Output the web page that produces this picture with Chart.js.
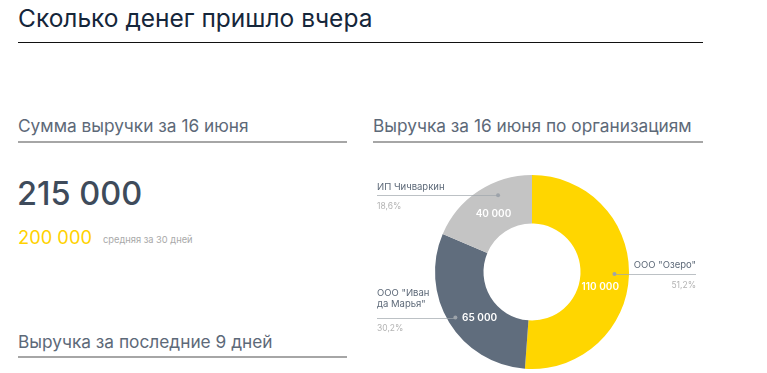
<!DOCTYPE html>
<html lang="ru">
<head>
<meta charset="utf-8">
<script src="https://cdn.jsdelivr.net/npm/chart.js@4"></script>
<style>
  html, body { margin: 0; padding: 0; background: #fff; }
  body { width: 767px; height: 373px; position: relative; overflow: hidden; font-family: Inter, "Noto Sans", sans-serif; }
  .abs { position: absolute; white-space: nowrap; line-height: 1; }
  .title { left: 18px; top: 6px; font-size: 24.5px; color: #15263a; }
  .rule { position: absolute; height: 1px; background: #111; }
  .heading { font-size: 17.3px; color: #5d6978; }
  .hline { position: absolute; height: 2px; background: #a6a6a6; }
  .big { left: 17px; top: 178px; font-size: 32.5px; font-weight: 500; color: #3e4b5b; }
  .avg { left: 18px; top: 228px; font-size: 18.3px; color: #ffd200; }
  .avgnote { left: 103px; top: 235px; font-size: 9.3px; color: #a9a9a9; }
  #donutWrap { position: absolute; left: 360px; top: 160px; width: 400px; height: 213px; }
</style>
</head>
<body>
<div class="abs title">Сколько денег пришло вчера</div>
<div class="rule" style="left:18px; top:42px; width:685px;"></div>

<div class="abs heading" style="left:18px; top:117px;">Сумма выручки за 16 июня</div>
<div class="hline" style="left:18px; top:141px; width:329px;"></div>

<div class="abs big">215 000</div>
<div class="abs avg">200 000</div>
<div class="abs avgnote">средняя за 30 дней</div>

<div class="abs heading" style="left:373px; top:117px;">Выручка за 16 июня по организациям</div>
<div class="hline" style="left:373px; top:141px; width:330px;"></div>

<div class="abs heading" style="left:18px; top:333px;">Выручка за последние 9 дней</div>
<div class="hline" style="left:18px; top:356px; width:329px;"></div>

<div id="donutWrap"><canvas id="donut" width="400" height="213"></canvas></div>

<script>
// Data
const orgNames = ['ООО "Озеро"', 'ООО "Иван да Марья"', 'ИП Чичваркин'];
const orgLabelLines = [['ООО "Озеро"'], ['ООО "Иван', 'да Марья"'], ['ИП Чичваркин']];
const orgRevenue = [110000, 65000, 40000];
const orgColors = ['#ffd600', '#606d7d', '#c4c4c4'];

// callout placement: side and dot position in units of outer radius
const calloutSide = ['right', 'left', 'left'];
const calloutDot = [[0.85, 0.02], [-0.79, 0.47], [-0.35, -0.79]];
// value label nudge along the ring (degrees)
const valueAngleShift = [10, -10, 0];

const total = orgRevenue.reduce((a, b) => a + b, 0);

function formatNum(v) {
    return v.toString().replace(/\B(?=(\d{3})+(?!\d))/g, ' ');
}

function formatPct(v) {
    return (v / total * 100).toFixed(1).replace('.', ',') + '%';
}

// Draws value labels inside slices and the side callouts
const calloutPlugin = {
    id: 'callouts',
    afterDatasetsDraw(chart) {
        const ctx = chart.ctx;
        const meta = chart.getDatasetMeta(0);
        const leftX = 17;
        const rightX = 336;

        meta.data.forEach((arc, i) => {
            const R = arc.outerRadius;
            const dx = arc.x + calloutDot[i][0] * R;
            const dy = arc.y + calloutDot[i][1] * R;
            const endX = calloutSide[i] === 'left' ? leftX : rightX;

            ctx.save();
            // line
            ctx.strokeStyle = 'rgba(160,166,172,0.7)';
            ctx.lineWidth = 1;
            ctx.beginPath();
            ctx.moveTo(Math.min(dx, endX), Math.round(dy) + 0.5);
            ctx.lineTo(Math.max(dx, endX), Math.round(dy) + 0.5);
            ctx.stroke();
            // dot
            ctx.fillStyle = '#9da3aa';
            ctx.beginPath();
            ctx.arc(dx, dy, 2, 0, Math.PI * 2);
            ctx.fill();

            // name
            ctx.textAlign = calloutSide[i] === 'left' ? 'left' : 'right';
            ctx.textBaseline = 'middle';
            ctx.font = '9.5px Inter, "Noto Sans", sans-serif';
            ctx.fillStyle = '#5d6978';
            const lines = orgLabelLines[i];
            const n = lines.length - 1;
            lines.forEach((txt, k) => {
                const y = dy - 8.5 - n * 5 - (n - k) * 11;
                ctx.fillText(txt, endX, y);
            });
            // percent
            ctx.font = '8.5px Inter, "Noto Sans", sans-serif';
            ctx.fillStyle = '#b3b3b3';
            ctx.fillText(formatPct(orgRevenue[i]), endX, dy + 11);

            // value inside slice
            const mid = (arc.startAngle + arc.endAngle) / 2 + valueAngleShift[i] * Math.PI / 180;
            const r = arc.innerRadius + (arc.outerRadius - arc.innerRadius) * 0.44;
            ctx.textAlign = 'center';
            ctx.font = '600 10px Inter, "Noto Sans", sans-serif';
            ctx.fillStyle = '#ffffff';
            ctx.fillText(formatNum(orgRevenue[i]), arc.x + Math.cos(mid) * r, arc.y + Math.sin(mid) * r);
            ctx.restore();
        });
    }
};

new Chart(document.getElementById('donut'), {
    type: 'doughnut',
    data: {
        labels: orgNames,
        datasets: [{
            data: orgRevenue,
            backgroundColor: orgColors,
            borderWidth: 0,
            hoverOffset: 0
        }]
    },
    options: {
        responsive: false,
        animation: false,
        devicePixelRatio: 1,
        cutout: '50%',
        layout: { padding: { left: 0, right: 56, top: 15, bottom: 4 } },
        plugins: {
            legend: { display: false },
            tooltip: { enabled: false }
        }
    },
    plugins: [calloutPlugin]
});
</script>
</body>
</html>
